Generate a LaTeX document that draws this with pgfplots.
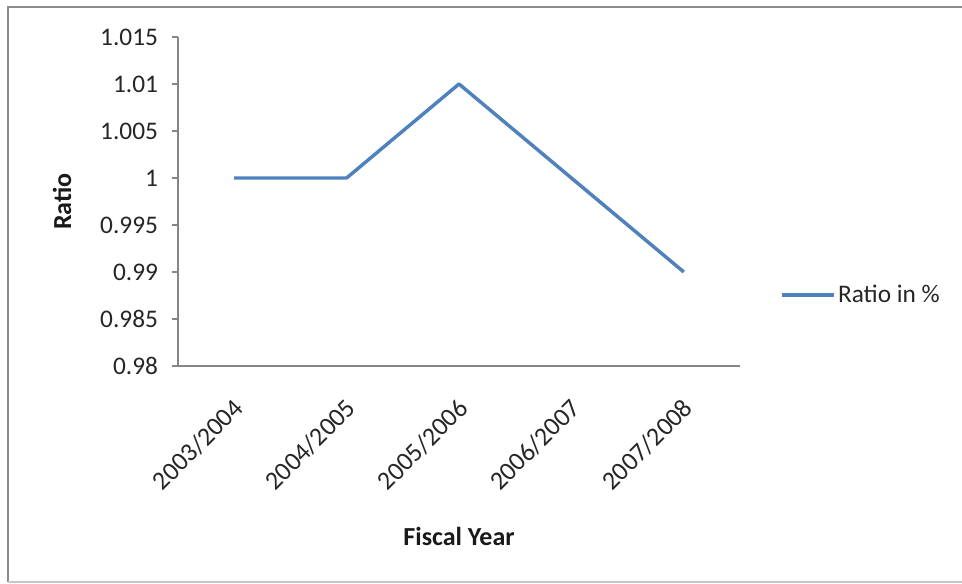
\documentclass[border=0pt]{standalone}
\usepackage{pgfplots}
\pgfplotsset{compat=1.18}
\usepackage{fontspec}
\setmainfont{Carlito}
\definecolor{excelblue}{HTML}{4F81BD}
\definecolor{axisgray}{HTML}{868686}
\definecolor{framegray}{HTML}{8C8C8C}
\begin{document}
\begin{tikzpicture}[x=0.75pt,y=0.75pt]
\path[use as bounding box] (0,0) rectangle (962,584);
\draw[framegray,line width=1.5pt] (8,2) -- (8,577) -- (962,577);
\draw[framegray!50,line width=1pt] (8,2) -- (962,2);
\begin{axis}[
  at={(133.5pt,163.5pt)}, anchor=south west,
  scale only axis, width=421.5pt, height=246.75pt,
  xmin=-0.5, xmax=4.5, ymin=0.98, ymax=1.015,
  axis x line*=bottom, axis y line*=left,
  axis line style={-, axisgray, line width=0.8pt},
  xtick={0,1,2,3,4},
  xticklabels={2003/2004,2004/2005,2005/2006,2006/2007,2007/2008},
  xtick style={draw=none},
  ytick={0.98,0.985,0.99,0.995,1,1.005,1.01,1.015},
  yticklabels={0.98,0.985,0.99,0.995,1,1.005,1.01,1.015},
  tick align=outside, major tick length=4.5pt,
  ytick style={axisgray, line width=0.8pt},
  /pgf/number format/assume math mode=true,
  tick label style={font=\fontsize{19}{22}\selectfont, text=black!85},
  yticklabel style={xshift=-7pt},
  xticklabel style={rotate=45, anchor=north east, xshift=-11pt, yshift=-8.5pt, font=\fontsize{19.5}{22}\selectfont},
  xlabel={\textbf{Fiscal Year}},
  xlabel style={at={(axis description cs:0.5,0)}, anchor=center, yshift=-128pt, font=\fontsize{19.5}{22}\selectfont, text=black!90},
  ylabel={\textbf{Ratio}},
  ylabel style={at={(axis description cs:0,0.5)}, anchor=center, yshift=87pt, font=\fontsize{19.5}{22}\selectfont, text=black!90},
  legend style={at={(axis description cs:1.071,0.216)}, anchor=west, draw=none, fill=none,
    inner sep=0pt, outer sep=0pt, font=\fontsize{19}{22}\selectfont, text=black!85,
    nodes={inner sep=2pt}},
  legend image code/.code={\draw[#1] (0pt,0pt) -- (39pt,0pt);},
  clip=false,
]
\addplot[excelblue, line width=2.6pt, line join=round] coordinates {
  (0,1.0) (1,1.0) (2,1.01) (3,1.0) (4,0.99)
};
\addlegendentry{Ratio in \%}
\end{axis}
\end{tikzpicture}
\end{document}
